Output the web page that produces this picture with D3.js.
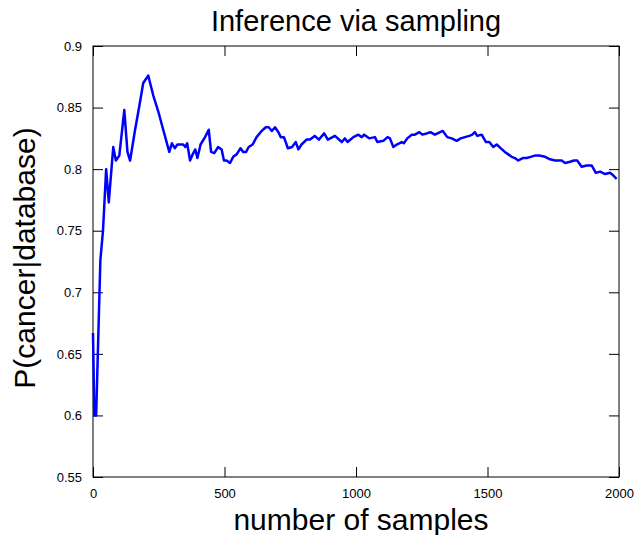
<!DOCTYPE html>
<html><head><meta charset="utf-8">
<script src="https://cdn.jsdelivr.net/npm/d3@7"></script>
<style>body{margin:0;background:#fff}svg{display:block}</style>
</head><body>
<script>
const sampleCounts = [0,5,12,28,38,50,60,77,87,100,119,131,141,160,176,191,204,210,229,248,267,290,300,311,321,343,351,358,369,379,389,397,409,426,440,449,461,476,489,498,508,521,533,546,561,571,582,592,607,622,641,657,668,680,692,705,714,726,741,757,771,781,793,812,825,843,859,879,893,920,946,958,968,990,1009,1022,1031,1050,1072,1081,1104,1120,1129,1142,1155,1174,1182,1195,1212,1224,1241,1252,1269,1283,1300,1330,1347,1364,1383,1398,1414,1431,1442,1452,1461,1478,1494,1507,1522,1535,1550,1566,1579,1592,1604,1617,1634,1649,1664,1680,1697,1719,1738,1757,1773,1782,1795,1814,1829,1841,1858,1877,1896,1912,1928,1947,1966,1978,1991];
const probability = [0.667,0.600,0.600,0.726,0.750,0.800,0.773,0.818,0.807,0.811,0.848,0.814,0.807,0.832,0.851,0.870,0.874,0.876,0.860,0.847,0.832,0.814,0.821,0.817,0.820,0.820,0.818,0.821,0.807,0.812,0.816,0.809,0.820,0.826,0.832,0.814,0.813,0.818,0.816,0.807,0.807,0.805,0.810,0.812,0.817,0.814,0.814,0.818,0.820,0.826,0.831,0.834,0.834,0.831,0.834,0.830,0.826,0.826,0.817,0.818,0.822,0.816,0.820,0.824,0.824,0.827,0.824,0.829,0.824,0.827,0.822,0.825,0.822,0.826,0.828,0.826,0.828,0.825,0.826,0.822,0.823,0.826,0.825,0.818,0.820,0.822,0.821,0.825,0.828,0.828,0.830,0.828,0.829,0.830,0.828,0.831,0.826,0.825,0.823,0.825,0.826,0.827,0.828,0.830,0.827,0.828,0.822,0.822,0.818,0.820,0.817,0.814,0.812,0.810,0.809,0.807,0.809,0.809,0.810,0.811,0.811,0.810,0.808,0.807,0.807,0.807,0.805,0.806,0.807,0.807,0.802,0.803,0.803,0.797,0.798,0.796,0.797,0.795,0.792];
const xTicks = [0,500,1000,1500,2000];
const yTicks = [0.55,0.6,0.65,0.7,0.75,0.8,0.85,0.9];
const titleText = "Inference via sampling";
const xLabel = "number of samples";
const yLabel = "P(cancer|database)";

const W = 638, H = 535;
const m = {left:93, right:19, top:46, bottom:58};
const svg = d3.select("body").append("svg").attr("width",W).attr("height",H);
const x = d3.scaleLinear().domain([0,2000]).range([m.left, W-m.right]);
const y = d3.scaleLinear().domain([0.55,0.9]).range([H-m.bottom, m.top]);
const font = "'Liberation Sans', Arial, Helvetica, sans-serif";

// frame
svg.append("rect").attr("x",x(0)).attr("y",y(0.9)).attr("width",x(2000)-x(0)).attr("height",y(0.55)-y(0.9))
  .attr("fill","none").attr("stroke","#000").attr("stroke-width",1);

const tl = 10;
const gx = svg.append("g").attr("transform",`translate(0,${y(0.55)})`)
  .call(d3.axisBottom(x).tickValues(xTicks).tickSize(-tl).tickPadding(12).tickFormat(d3.format("d")));
const gxt = svg.append("g").attr("transform",`translate(0,${y(0.9)})`)
  .call(d3.axisTop(x).tickValues(xTicks).tickSize(-tl).tickFormat(""));
const gy = svg.append("g").attr("transform",`translate(${x(0)},0)`)
  .call(d3.axisLeft(y).tickValues(yTicks).tickSize(-tl).tickPadding(11).tickFormat(d=>String(+d.toFixed(2))));
const gyr = svg.append("g").attr("transform",`translate(${x(2000)},0)`)
  .call(d3.axisRight(y).tickValues(yTicks).tickSize(-tl).tickFormat(""));
[gx,gxt,gy,gyr].forEach(g=>{
  g.select(".domain").remove();
  g.selectAll("line").attr("stroke","#000");
  g.selectAll("text").attr("font-family",font).attr("font-size",13).attr("fill","#000");
});

const pts = sampleCounts.map((s,i)=>[s,probability[i]]);
svg.append("path").datum(pts)
  .attr("d", d3.line().x(d=>x(d[0])).y(d=>y(d[1])))
  .attr("fill","none").attr("stroke","#0000ff").attr("stroke-width",2.5).attr("stroke-linejoin","round");

svg.append("text").attr("x",(x(0)+x(2000))/2).attr("y",31).attr("text-anchor","middle")
  .attr("font-family",font).attr("font-size",29).text(titleText);
svg.append("text").attr("x",(x(0)+x(2000))/2+5).attr("y",530).attr("text-anchor","middle")
  .attr("font-family",font).attr("font-size",30).text(xLabel);
svg.append("text").attr("transform",`translate(35,258) rotate(-90)`).attr("text-anchor","middle")
  .attr("font-family",font).attr("font-size",30).text(yLabel);
</script>
</body></html>
